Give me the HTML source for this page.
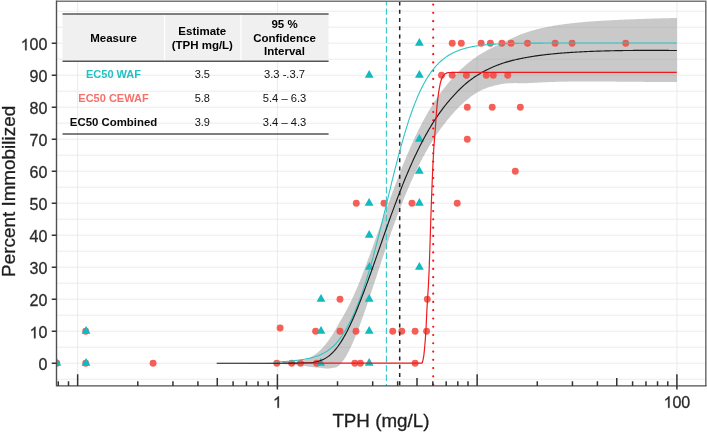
<!DOCTYPE html><html><head><meta charset="utf-8"><style>html,body{margin:0;padding:0;background:#fff;width:707px;height:434px;overflow:hidden;position:relative}</style></head><body><svg width="707" height="434" viewBox="0 0 707 434" style="position:absolute;left:0;top:0;will-change:transform"><defs><clipPath id="pc"><rect x="56.5" y="1.2" width="649.3" height="384.7"/></clipPath></defs><g clip-path="url(#pc)"><path d="M56.5 379.20H705.8M56.5 363.20H705.8M56.5 347.20H705.8M56.5 331.20H705.8M56.5 315.20H705.8M56.5 299.20H705.8M56.5 283.20H705.8M56.5 267.20H705.8M56.5 251.20H705.8M56.5 235.20H705.8M56.5 219.20H705.8M56.5 203.20H705.8M56.5 187.20H705.8M56.5 171.20H705.8M56.5 155.20H705.8M56.5 139.20H705.8M56.5 123.20H705.8M56.5 107.20H705.8M56.5 91.20H705.8M56.5 75.20H705.8M56.5 59.20H705.8M56.5 43.20H705.8M56.5 27.20H705.8M56.5 11.20H705.8M77.65 1.2V385.9M277.40 1.2V385.9M477.15 1.2V385.9M676.90 1.2V385.9" stroke="#ebebeb" stroke-width="1" fill="none"/><path d="M216.70 363.20 L217.47 363.20 L218.24 363.20 L219.00 363.20 L219.77 363.20 L220.54 363.20 L221.31 363.20 L222.08 363.20 L222.85 363.20 L223.61 363.19 L224.38 363.19 L225.15 363.19 L225.92 363.19 L226.69 363.19 L227.46 363.19 L228.22 363.18 L228.99 363.18 L229.76 363.18 L230.53 363.18 L231.30 363.17 L232.07 363.17 L232.83 363.17 L233.60 363.16 L234.37 363.16 L235.14 363.16 L235.91 363.15 L236.68 363.15 L237.44 363.15 L238.21 363.14 L238.98 363.14 L239.75 363.13 L240.52 363.13 L241.28 363.12 L242.05 363.12 L242.82 363.11 L243.59 363.11 L244.36 363.10 L245.13 363.10 L245.89 363.09 L246.66 363.09 L247.43 363.08 L248.20 363.07 L248.97 363.07 L249.74 363.06 L250.50 363.06 L251.27 363.05 L252.04 363.04 L252.81 363.04 L253.58 363.03 L254.35 363.02 L255.11 363.01 L255.88 363.01 L256.65 363.00 L257.42 362.99 L258.19 362.98 L258.96 362.98 L259.72 362.97 L260.49 362.96 L261.26 362.95 L262.03 362.94 L262.80 362.93 L263.57 362.92 L264.33 362.92 L265.10 362.91 L265.87 362.90 L266.64 362.89 L267.41 362.88 L268.17 362.87 L268.94 362.86 L269.71 362.85 L270.48 362.84 L271.25 362.83 L272.02 362.82 L272.78 362.81 L273.55 362.80 L274.32 362.78 L275.09 362.77 L275.86 362.76 L276.63 362.75 L277.39 362.74 L278.16 362.73 L278.93 362.72 L279.70 362.70 L280.47 362.69 L281.24 362.68 L282.00 362.66 L282.77 362.64 L283.54 362.62 L284.31 362.60 L285.08 362.58 L285.85 362.55 L286.61 362.52 L287.38 362.49 L288.15 362.46 L288.92 362.42 L289.69 362.38 L290.45 362.34 L291.22 362.29 L291.99 362.25 L292.76 362.19 L293.53 362.14 L294.30 362.08 L295.06 362.01 L295.83 361.94 L296.60 361.87 L297.37 361.79 L298.14 361.71 L298.91 361.62 L299.67 361.52 L300.44 361.41 L301.21 361.26 L301.98 361.07 L302.75 360.85 L303.52 360.59 L304.28 360.30 L305.05 359.99 L305.82 359.66 L306.59 359.30 L307.36 358.94 L308.13 358.56 L308.89 358.17 L309.66 357.77 L310.43 357.37 L311.20 356.95 L311.97 356.50 L312.74 356.03 L313.50 355.53 L314.27 355.01 L315.04 354.47 L315.81 353.90 L316.58 353.30 L317.34 352.69 L318.11 352.05 L318.88 351.38 L319.65 350.69 L320.42 349.96 L321.19 349.20 L321.95 348.41 L322.72 347.58 L323.49 346.72 L324.26 345.84 L325.03 344.92 L325.80 343.98 L326.56 343.02 L327.33 342.03 L328.10 341.00 L328.87 339.94 L329.64 338.85 L330.41 337.73 L331.17 336.58 L331.94 335.41 L332.71 334.22 L333.48 333.00 L334.25 331.73 L335.02 330.42 L335.78 329.07 L336.55 327.70 L337.32 326.33 L338.09 324.96 L338.86 323.61 L339.62 322.29 L340.39 321.00 L341.16 319.70 L341.93 318.37 L342.70 317.01 L343.47 315.63 L344.23 314.24 L345.00 312.83 L345.77 311.42 L346.54 310.00 L347.31 308.57 L348.08 307.12 L348.84 305.63 L349.61 304.11 L350.38 302.56 L351.15 300.98 L351.92 299.36 L352.69 297.72 L353.45 296.04 L354.22 294.34 L354.99 292.60 L355.76 290.84 L356.53 289.05 L357.30 287.23 L358.06 285.39 L358.83 283.52 L359.60 281.63 L360.37 279.72 L361.14 277.78 L361.91 275.82 L362.67 273.84 L363.44 271.84 L364.21 269.82 L364.98 267.78 L365.75 265.73 L366.51 263.67 L367.28 261.60 L368.05 259.52 L368.82 257.43 L369.59 255.33 L370.36 253.23 L371.12 251.11 L371.89 249.00 L372.66 246.88 L373.43 244.75 L374.20 242.62 L374.97 240.49 L375.73 238.35 L376.50 236.21 L377.27 234.08 L378.04 231.94 L378.81 229.80 L379.58 227.66 L380.34 225.52 L381.11 223.39 L381.88 221.25 L382.65 219.12 L383.42 216.99 L384.19 214.87 L384.95 212.75 L385.72 210.63 L386.49 208.52 L387.26 206.42 L388.03 204.32 L388.79 202.22 L389.56 200.14 L390.33 198.06 L391.10 195.98 L391.87 193.92 L392.64 191.86 L393.40 189.81 L394.17 187.77 L394.94 185.73 L395.71 183.71 L396.48 181.69 L397.25 179.68 L398.01 177.69 L398.78 175.70 L399.55 173.72 L400.32 171.75 L401.09 169.79 L401.86 167.85 L402.62 165.93 L403.39 164.02 L404.16 162.12 L404.93 160.25 L405.70 158.39 L406.47 156.55 L407.23 154.72 L408.00 152.92 L408.77 151.13 L409.54 149.36 L410.31 147.60 L411.07 145.87 L411.84 144.15 L412.61 142.45 L413.38 140.77 L414.15 139.10 L414.92 137.46 L415.68 135.83 L416.45 134.23 L417.22 132.64 L417.99 131.06 L418.76 129.51 L419.53 127.98 L420.29 126.46 L421.06 124.96 L421.83 123.49 L422.60 122.03 L423.37 120.58 L424.14 119.16 L424.90 117.75 L425.67 116.37 L426.44 115.00 L427.21 113.65 L427.98 112.31 L428.75 111.00 L429.51 109.70 L430.28 108.42 L431.05 107.16 L431.82 105.91 L432.59 104.68 L433.36 103.47 L434.12 102.28 L434.89 101.10 L435.66 99.94 L436.43 98.80 L437.20 97.67 L437.96 96.56 L438.73 95.47 L439.50 94.39 L440.27 93.32 L441.04 92.28 L441.81 91.24 L442.57 90.22 L443.34 89.21 L444.11 88.21 L444.88 87.22 L445.65 86.25 L446.42 85.29 L447.18 84.35 L447.95 83.41 L448.72 82.49 L449.49 81.58 L450.26 80.68 L451.03 79.80 L451.79 78.92 L452.56 78.06 L453.33 77.21 L454.10 76.37 L454.87 75.55 L455.64 74.73 L456.40 73.93 L457.17 73.14 L457.94 72.36 L458.71 71.59 L459.48 70.83 L460.24 70.08 L461.01 69.35 L461.78 68.62 L462.55 67.91 L463.32 67.21 L464.09 66.52 L464.85 65.84 L465.62 65.17 L466.39 64.51 L467.16 63.86 L467.93 63.22 L468.70 62.59 L469.46 61.97 L470.23 61.37 L471.00 60.77 L471.77 60.18 L472.54 59.60 L473.31 59.04 L474.07 58.48 L474.84 57.93 L475.61 57.40 L476.38 56.87 L477.15 56.35 L477.92 55.84 L478.68 55.34 L479.45 54.85 L480.22 54.37 L480.99 53.90 L481.76 53.43 L482.53 52.97 L483.29 52.52 L484.06 52.07 L484.83 51.64 L485.60 51.20 L486.37 50.78 L487.13 50.36 L487.90 49.95 L488.67 49.54 L489.44 49.14 L490.21 48.75 L490.98 48.36 L491.74 47.97 L492.51 47.59 L493.28 47.21 L494.05 46.84 L494.82 46.47 L495.59 46.11 L496.35 45.74 L497.12 45.39 L497.89 45.03 L498.66 44.68 L499.43 44.33 L500.20 43.98 L500.96 43.63 L501.73 43.26 L502.50 42.89 L503.27 42.52 L504.04 42.13 L504.81 41.75 L505.57 41.37 L506.34 40.98 L507.11 40.60 L507.88 40.22 L508.65 39.85 L509.41 39.48 L510.18 39.12 L510.95 38.77 L511.72 38.41 L512.49 38.05 L513.26 37.69 L514.02 37.34 L514.79 36.98 L515.56 36.64 L516.33 36.29 L517.10 35.95 L517.87 35.62 L518.63 35.30 L519.40 34.98 L520.17 34.67 L520.94 34.37 L521.71 34.08 L522.48 33.79 L523.24 33.50 L524.01 33.22 L524.78 32.94 L525.55 32.67 L526.32 32.41 L527.09 32.15 L527.85 31.89 L528.62 31.65 L529.39 31.41 L530.16 31.18 L530.93 30.95 L531.69 30.73 L532.46 30.51 L533.23 30.30 L534.00 30.08 L534.77 29.88 L535.54 29.67 L536.30 29.47 L537.07 29.27 L537.84 29.08 L538.61 28.89 L539.38 28.70 L540.15 28.52 L540.91 28.33 L541.68 28.16 L542.45 27.98 L543.22 27.81 L543.99 27.64 L544.76 27.48 L545.52 27.32 L546.29 27.16 L547.06 27.00 L547.83 26.85 L548.60 26.70 L549.37 26.55 L550.13 26.41 L550.90 26.27 L551.67 26.13 L552.44 25.99 L553.21 25.86 L553.98 25.73 L554.74 25.60 L555.51 25.47 L556.28 25.35 L557.05 25.23 L557.82 25.11 L558.58 24.99 L559.35 24.87 L560.12 24.76 L560.89 24.65 L561.66 24.54 L562.43 24.43 L563.19 24.32 L563.96 24.22 L564.73 24.11 L565.50 24.01 L566.27 23.91 L567.04 23.82 L567.80 23.72 L568.57 23.63 L569.34 23.53 L570.11 23.44 L570.88 23.35 L571.65 23.26 L572.41 23.18 L573.18 23.09 L573.95 23.01 L574.72 22.93 L575.49 22.85 L576.26 22.77 L577.02 22.69 L577.79 22.61 L578.56 22.54 L579.33 22.46 L580.10 22.39 L580.86 22.32 L581.63 22.25 L582.40 22.18 L583.17 22.11 L583.94 22.04 L584.71 21.98 L585.47 21.91 L586.24 21.85 L587.01 21.79 L587.78 21.73 L588.55 21.67 L589.32 21.61 L590.08 21.55 L590.85 21.49 L591.62 21.43 L592.39 21.38 L593.16 21.32 L593.93 21.27 L594.69 21.21 L595.46 21.16 L596.23 21.11 L597.00 21.06 L597.77 21.01 L598.54 20.96 L599.30 20.91 L600.07 20.86 L600.84 20.82 L601.61 20.77 L602.38 20.72 L603.15 20.68 L603.91 20.63 L604.68 20.59 L605.45 20.55 L606.22 20.50 L606.99 20.46 L607.75 20.42 L608.52 20.38 L609.29 20.34 L610.06 20.30 L610.83 20.26 L611.60 20.22 L612.36 20.18 L613.13 20.14 L613.90 20.10 L614.67 20.06 L615.44 20.03 L616.21 19.99 L616.97 19.95 L617.74 19.91 L618.51 19.88 L619.28 19.84 L620.05 19.81 L620.82 19.77 L621.58 19.74 L622.35 19.70 L623.12 19.67 L623.89 19.64 L624.66 19.60 L625.43 19.57 L626.19 19.54 L626.96 19.51 L627.73 19.47 L628.50 19.44 L629.27 19.41 L630.03 19.38 L630.80 19.35 L631.57 19.32 L632.34 19.29 L633.11 19.26 L633.88 19.23 L634.64 19.20 L635.41 19.17 L636.18 19.14 L636.95 19.11 L637.72 19.08 L638.49 19.06 L639.25 19.03 L640.02 19.00 L640.79 18.98 L641.56 18.95 L642.33 18.92 L643.10 18.90 L643.86 18.87 L644.63 18.84 L645.40 18.82 L646.17 18.79 L646.94 18.77 L647.71 18.74 L648.47 18.72 L649.24 18.70 L650.01 18.67 L650.78 18.65 L651.55 18.63 L652.32 18.60 L653.08 18.58 L653.85 18.56 L654.62 18.53 L655.39 18.51 L656.16 18.49 L656.92 18.47 L657.69 18.45 L658.46 18.43 L659.23 18.41 L660.00 18.39 L660.77 18.37 L661.53 18.35 L662.30 18.33 L663.07 18.31 L663.84 18.29 L664.61 18.27 L665.38 18.25 L666.14 18.23 L666.91 18.21 L667.68 18.19 L668.45 18.18 L669.22 18.16 L669.99 18.14 L670.75 18.12 L671.52 18.11 L672.29 18.09 L673.06 18.07 L673.83 18.06 L674.60 18.04 L675.36 18.03 L676.13 18.01 L676.90 18.00 L676.90 81.99 L676.13 82.00 L675.36 82.00 L674.60 82.00 L673.83 82.01 L673.06 82.01 L672.29 82.01 L671.52 82.01 L670.75 82.01 L669.99 82.01 L669.22 82.01 L668.45 82.01 L667.68 82.01 L666.91 82.01 L666.14 82.01 L665.38 82.01 L664.61 82.01 L663.84 82.01 L663.07 82.00 L662.30 82.00 L661.53 82.00 L660.77 82.00 L660.00 81.99 L659.23 81.99 L658.46 81.98 L657.69 81.98 L656.92 81.98 L656.16 81.97 L655.39 81.97 L654.62 81.96 L653.85 81.96 L653.08 81.95 L652.32 81.95 L651.55 81.94 L650.78 81.94 L650.01 81.93 L649.24 81.92 L648.47 81.92 L647.71 81.91 L646.94 81.91 L646.17 81.90 L645.40 81.89 L644.63 81.89 L643.86 81.88 L643.10 81.87 L642.33 81.86 L641.56 81.86 L640.79 81.85 L640.02 81.84 L639.25 81.84 L638.49 81.83 L637.72 81.82 L636.95 81.81 L636.18 81.81 L635.41 81.80 L634.64 81.79 L633.88 81.78 L633.11 81.77 L632.34 81.77 L631.57 81.76 L630.80 81.75 L630.03 81.74 L629.27 81.74 L628.50 81.73 L627.73 81.72 L626.96 81.72 L626.19 81.71 L625.43 81.70 L624.66 81.69 L623.89 81.69 L623.12 81.68 L622.35 81.67 L621.58 81.67 L620.82 81.66 L620.05 81.65 L619.28 81.65 L618.51 81.64 L617.74 81.64 L616.97 81.63 L616.21 81.63 L615.44 81.62 L614.67 81.62 L613.90 81.61 L613.13 81.61 L612.36 81.60 L611.60 81.60 L610.83 81.59 L610.06 81.59 L609.29 81.59 L608.52 81.59 L607.75 81.58 L606.99 81.58 L606.22 81.58 L605.45 81.58 L604.68 81.58 L603.91 81.58 L603.15 81.58 L602.38 81.58 L601.61 81.58 L600.84 81.58 L600.07 81.58 L599.30 81.58 L598.54 81.58 L597.77 81.58 L597.00 81.58 L596.23 81.58 L595.46 81.58 L594.69 81.58 L593.93 81.58 L593.16 81.58 L592.39 81.58 L591.62 81.58 L590.85 81.58 L590.08 81.58 L589.32 81.58 L588.55 81.58 L587.78 81.58 L587.01 81.57 L586.24 81.57 L585.47 81.57 L584.71 81.57 L583.94 81.57 L583.17 81.57 L582.40 81.57 L581.63 81.57 L580.86 81.57 L580.10 81.57 L579.33 81.57 L578.56 81.57 L577.79 81.57 L577.02 81.57 L576.26 81.57 L575.49 81.57 L574.72 81.58 L573.95 81.58 L573.18 81.58 L572.41 81.59 L571.65 81.59 L570.88 81.60 L570.11 81.60 L569.34 81.61 L568.57 81.61 L567.80 81.62 L567.04 81.63 L566.27 81.64 L565.50 81.65 L564.73 81.66 L563.96 81.67 L563.19 81.68 L562.43 81.70 L561.66 81.71 L560.89 81.73 L560.12 81.74 L559.35 81.76 L558.58 81.78 L557.82 81.80 L557.05 81.82 L556.28 81.84 L555.51 81.86 L554.74 81.88 L553.98 81.91 L553.21 81.93 L552.44 81.96 L551.67 81.99 L550.90 82.02 L550.13 82.04 L549.37 82.07 L548.60 82.10 L547.83 82.13 L547.06 82.17 L546.29 82.20 L545.52 82.23 L544.76 82.27 L543.99 82.30 L543.22 82.34 L542.45 82.37 L541.68 82.41 L540.91 82.44 L540.15 82.48 L539.38 82.52 L538.61 82.56 L537.84 82.60 L537.07 82.64 L536.30 82.68 L535.54 82.72 L534.77 82.76 L534.00 82.80 L533.23 82.84 L532.46 82.89 L531.69 82.93 L530.93 82.97 L530.16 83.02 L529.39 83.06 L528.62 83.09 L527.85 83.12 L527.09 83.14 L526.32 83.16 L525.55 83.17 L524.78 83.18 L524.01 83.18 L523.24 83.19 L522.48 83.18 L521.71 83.18 L520.94 83.17 L520.17 83.16 L519.40 83.15 L518.63 83.15 L517.87 83.14 L517.10 83.13 L516.33 83.12 L515.56 83.12 L514.79 83.12 L514.02 83.12 L513.26 83.13 L512.49 83.14 L511.72 83.15 L510.95 83.17 L510.18 83.20 L509.41 83.23 L508.65 83.27 L507.88 83.32 L507.11 83.37 L506.34 83.44 L505.57 83.51 L504.81 83.59 L504.04 83.69 L503.27 83.79 L502.50 83.91 L501.73 84.03 L500.96 84.17 L500.20 84.33 L499.43 84.49 L498.66 84.66 L497.89 84.83 L497.12 85.01 L496.35 85.19 L495.59 85.37 L494.82 85.56 L494.05 85.75 L493.28 85.96 L492.51 86.16 L491.74 86.38 L490.98 86.60 L490.21 86.83 L489.44 87.07 L488.67 87.32 L487.90 87.58 L487.13 87.85 L486.37 88.13 L485.60 88.42 L484.83 88.72 L484.06 89.03 L483.29 89.36 L482.53 89.70 L481.76 90.05 L480.99 90.42 L480.22 90.80 L479.45 91.20 L478.68 91.61 L477.92 92.04 L477.15 92.49 L476.38 92.95 L475.61 93.43 L474.84 93.93 L474.07 94.44 L473.31 94.97 L472.54 95.50 L471.77 96.06 L471.00 96.62 L470.23 97.20 L469.46 97.79 L468.70 98.39 L467.93 99.01 L467.16 99.63 L466.39 100.27 L465.62 100.93 L464.85 101.59 L464.09 102.27 L463.32 102.96 L462.55 103.67 L461.78 104.38 L461.01 105.11 L460.24 105.85 L459.48 106.60 L458.71 107.37 L457.94 108.14 L457.17 108.93 L456.40 109.74 L455.64 110.55 L454.87 111.37 L454.10 112.21 L453.33 113.06 L452.56 113.92 L451.79 114.80 L451.03 115.68 L450.26 116.58 L449.49 117.49 L448.72 118.41 L447.95 119.35 L447.18 120.29 L446.42 121.25 L445.65 122.22 L444.88 123.20 L444.11 124.19 L443.34 125.19 L442.57 126.21 L441.81 127.24 L441.04 128.27 L440.27 129.32 L439.50 130.39 L438.73 131.47 L437.96 132.56 L437.20 133.67 L436.43 134.80 L435.66 135.94 L434.89 137.10 L434.12 138.28 L433.36 139.47 L432.59 140.68 L431.82 141.91 L431.05 143.16 L430.28 144.42 L429.51 145.70 L428.75 147.00 L427.98 148.31 L427.21 149.65 L426.44 151.00 L425.67 152.37 L424.90 153.75 L424.14 155.16 L423.37 156.58 L422.60 158.03 L421.83 159.49 L421.06 160.96 L420.29 162.46 L419.53 163.98 L418.76 165.51 L417.99 167.06 L417.22 168.64 L416.45 170.23 L415.68 171.83 L414.92 173.46 L414.15 175.10 L413.38 176.77 L412.61 178.45 L411.84 180.15 L411.07 181.87 L410.31 183.60 L409.54 185.36 L408.77 187.13 L408.00 188.92 L407.23 190.72 L406.47 192.55 L405.70 194.39 L404.93 196.25 L404.16 198.12 L403.39 200.02 L402.62 201.93 L401.86 203.85 L401.09 205.79 L400.32 207.75 L399.55 209.72 L398.78 211.71 L398.01 213.73 L397.25 215.77 L396.48 217.83 L395.71 219.91 L394.94 222.02 L394.17 224.14 L393.40 226.28 L392.64 228.44 L391.87 230.61 L391.10 232.80 L390.33 235.01 L389.56 237.24 L388.79 239.47 L388.03 241.72 L387.26 243.99 L386.49 246.26 L385.72 248.55 L384.95 250.85 L384.19 253.15 L383.42 255.47 L382.65 257.79 L381.88 260.12 L381.11 262.45 L380.34 264.79 L379.58 267.13 L378.81 269.47 L378.04 271.81 L377.27 274.16 L376.50 276.50 L375.73 278.84 L374.97 281.18 L374.20 283.52 L373.43 285.85 L372.66 288.17 L371.89 290.48 L371.12 292.79 L370.36 295.09 L369.59 297.37 L368.82 299.64 L368.05 301.90 L367.28 304.15 L366.51 306.38 L365.75 308.59 L364.98 310.79 L364.21 312.98 L363.44 315.17 L362.67 317.36 L361.91 319.54 L361.14 321.70 L360.37 323.85 L359.60 325.96 L358.83 328.04 L358.06 330.07 L357.30 332.06 L356.53 333.99 L355.76 335.86 L354.99 337.70 L354.22 339.50 L353.45 341.28 L352.69 343.01 L351.92 344.72 L351.15 346.38 L350.38 348.00 L349.61 349.59 L348.84 351.13 L348.08 352.62 L347.31 354.06 L346.54 355.43 L345.77 356.73 L345.00 357.96 L344.23 359.14 L343.47 360.26 L342.70 361.32 L341.93 362.33 L341.16 363.29 L340.39 364.21 L339.62 365.07 L338.86 365.78 L338.09 366.36 L337.32 366.81 L336.55 367.15 L335.78 367.41 L335.02 367.60 L334.25 367.74 L333.48 367.85 L332.71 367.95 L331.94 368.05 L331.17 368.17 L330.41 368.32 L329.64 368.42 L328.87 368.48 L328.10 368.52 L327.33 368.52 L326.56 368.50 L325.80 368.45 L325.03 368.39 L324.26 368.31 L323.49 368.22 L322.72 368.13 L321.95 368.03 L321.19 367.94 L320.42 367.85 L319.65 367.77 L318.88 367.70 L318.11 367.65 L317.34 367.61 L316.58 367.56 L315.81 367.50 L315.04 367.43 L314.27 367.35 L313.50 367.26 L312.74 367.16 L311.97 367.06 L311.20 366.96 L310.43 366.85 L309.66 366.74 L308.89 366.63 L308.13 366.52 L307.36 366.40 L306.59 366.29 L305.82 366.18 L305.05 366.07 L304.28 365.97 L303.52 365.87 L302.75 365.77 L301.98 365.68 L301.21 365.60 L300.44 365.52 L299.67 365.45 L298.91 365.38 L298.14 365.30 L297.37 365.23 L296.60 365.16 L295.83 365.08 L295.06 365.01 L294.30 364.94 L293.53 364.87 L292.76 364.79 L291.99 364.73 L291.22 364.66 L290.45 364.59 L289.69 364.53 L288.92 364.47 L288.15 364.41 L287.38 364.36 L286.61 364.30 L285.85 364.26 L285.08 364.21 L284.31 364.17 L283.54 364.13 L282.77 364.09 L282.00 364.06 L281.24 364.03 L280.47 364.01 L279.70 363.99 L278.93 363.97 L278.16 363.95 L277.39 363.93 L276.63 363.92 L275.86 363.90 L275.09 363.88 L274.32 363.86 L273.55 363.85 L272.78 363.83 L272.02 363.81 L271.25 363.79 L270.48 363.78 L269.71 363.76 L268.94 363.75 L268.17 363.73 L267.41 363.71 L266.64 363.70 L265.87 363.68 L265.10 363.67 L264.33 363.65 L263.57 363.64 L262.80 363.62 L262.03 363.61 L261.26 363.60 L260.49 363.58 L259.72 363.57 L258.96 363.56 L258.19 363.54 L257.42 363.53 L256.65 363.52 L255.88 363.51 L255.11 363.49 L254.35 363.48 L253.58 363.47 L252.81 363.46 L252.04 363.45 L251.27 363.44 L250.50 363.43 L249.74 363.42 L248.97 363.41 L248.20 363.40 L247.43 363.39 L246.66 363.38 L245.89 363.37 L245.13 363.36 L244.36 363.35 L243.59 363.34 L242.82 363.34 L242.05 363.33 L241.28 363.32 L240.52 363.31 L239.75 363.31 L238.98 363.30 L238.21 363.29 L237.44 363.29 L236.68 363.28 L235.91 363.27 L235.14 363.27 L234.37 363.26 L233.60 363.26 L232.83 363.25 L232.07 363.25 L231.30 363.24 L230.53 363.24 L229.76 363.23 L228.99 363.23 L228.22 363.23 L227.46 363.22 L226.69 363.22 L225.92 363.22 L225.15 363.21 L224.38 363.21 L223.61 363.21 L222.85 363.21 L222.08 363.21 L221.31 363.20 L220.54 363.20 L219.77 363.20 L219.00 363.20 L218.24 363.20 L217.47 363.20 L216.70 363.20 Z" fill="#999" fill-opacity="0.53" stroke="none"/><g fill="#f34a40" fill-opacity="0.88"><circle cx="56.8" cy="363.2" r="3.45"/><circle cx="85.7" cy="363.2" r="3.45"/><circle cx="153.1" cy="363.2" r="3.45"/><circle cx="276.8" cy="363.2" r="3.45"/><circle cx="291.7" cy="363.2" r="3.45"/><circle cx="300.5" cy="363.2" r="3.45"/><circle cx="316.7" cy="363.2" r="3.45"/><circle cx="354.8" cy="363.2" r="3.45"/><circle cx="360.4" cy="363.2" r="3.45"/><circle cx="415.1" cy="363.2" r="3.45"/><circle cx="85.7" cy="331.2" r="3.45"/><circle cx="315.6" cy="331.2" r="3.45"/><circle cx="340.0" cy="331.2" r="3.45"/><circle cx="356.0" cy="331.2" r="3.45"/><circle cx="392.7" cy="331.2" r="3.45"/><circle cx="401.8" cy="331.2" r="3.45"/><circle cx="415.1" cy="331.2" r="3.45"/><circle cx="426.6" cy="331.2" r="3.45"/><circle cx="340.0" cy="299.2" r="3.45"/><circle cx="427.3" cy="299.2" r="3.45"/><circle cx="356.3" cy="203.2" r="3.45"/><circle cx="384.0" cy="203.2" r="3.45"/><circle cx="412.0" cy="203.2" r="3.45"/><circle cx="457.2" cy="203.2" r="3.45"/><circle cx="515.3" cy="171.2" r="3.45"/><circle cx="467.3" cy="139.2" r="3.45"/><circle cx="467.3" cy="107.2" r="3.45"/><circle cx="492.2" cy="107.2" r="3.45"/><circle cx="520.3" cy="107.2" r="3.45"/><circle cx="441.5" cy="75.2" r="3.45"/><circle cx="452.2" cy="75.2" r="3.45"/><circle cx="466.4" cy="75.2" r="3.45"/><circle cx="486.3" cy="75.2" r="3.45"/><circle cx="493.3" cy="75.2" r="3.45"/><circle cx="507.7" cy="75.2" r="3.45"/><circle cx="452.2" cy="43.2" r="3.45"/><circle cx="461.3" cy="43.2" r="3.45"/><circle cx="481.1" cy="43.2" r="3.45"/><circle cx="490.4" cy="43.2" r="3.45"/><circle cx="501.9" cy="43.2" r="3.45"/><circle cx="511.1" cy="43.2" r="3.45"/><circle cx="527.5" cy="43.2" r="3.45"/><circle cx="555.1" cy="43.2" r="3.45"/><circle cx="572.1" cy="43.2" r="3.45"/><circle cx="625.7" cy="43.2" r="3.45"/><circle cx="280.1" cy="328.0" r="3.45"/></g><path d="M56.80 358.10L61.22 365.75L52.38 365.75ZM86.10 358.10L90.52 365.75L81.68 365.75ZM320.70 358.10L325.12 365.75L316.28 365.75ZM369.20 358.10L373.62 365.75L364.78 365.75ZM86.10 326.10L90.52 333.75L81.68 333.75ZM321.00 326.10L325.42 333.75L316.58 333.75ZM369.20 326.10L373.62 333.75L364.78 333.75ZM321.00 294.10L325.42 301.75L316.58 301.75ZM369.20 294.10L373.62 301.75L364.78 301.75ZM369.40 262.10L373.82 269.75L364.98 269.75ZM419.40 262.10L423.82 269.75L414.98 269.75ZM369.20 230.10L373.62 237.75L364.78 237.75ZM369.10 198.10L373.52 205.75L364.68 205.75ZM419.40 198.10L423.82 205.75L414.98 205.75ZM419.30 166.10L423.72 173.75L414.88 173.75ZM419.40 134.10L423.82 141.75L414.98 141.75ZM369.20 70.10L373.62 77.75L364.78 77.75ZM419.40 70.10L423.82 77.75L414.98 77.75ZM419.40 38.10L423.82 45.75L414.98 45.75Z" fill="#0fbac0"/><line x1="386.4" y1="1.2" x2="386.4" y2="385.9" stroke="#36c8c8" stroke-width="1.1" stroke-dasharray="6.4 2.99" stroke-dashoffset="2.19"/><line x1="399.7" y1="1.2" x2="399.7" y2="385.9" stroke="#222" stroke-width="1.5" stroke-dasharray="4 4.255" stroke-dashoffset="-0.3"/><line x1="433.2" y1="1.2" x2="433.2" y2="385.9" stroke="#ff1010" stroke-width="2.2" stroke-dasharray="0.01 8.25" stroke-linecap="round" stroke-dashoffset="-3.4"/><path d="M274.00 362.18 L274.81 362.13 L275.61 362.09 L276.42 362.05 L277.23 362.01 L278.04 361.96 L278.84 361.92 L279.65 361.87 L280.46 361.82 L281.26 361.77 L282.07 361.72 L282.88 361.67 L283.69 361.62 L284.49 361.56 L285.30 361.50 L286.11 361.44 L286.92 361.38 L287.72 361.32 L288.53 361.25 L289.34 361.18 L290.14 361.11 L290.95 361.03 L291.76 360.96 L292.57 360.87 L293.37 360.79 L294.18 360.70 L294.99 360.60 L295.79 360.50 L296.60 360.40 L297.41 360.29 L298.22 360.18 L299.02 360.06 L299.83 359.94 L300.64 359.81 L301.45 359.68 L302.25 359.56 L303.06 359.43 L303.87 359.30 L304.67 359.17 L305.48 359.03 L306.29 358.89 L307.10 358.75 L307.90 358.60 L308.71 358.44 L309.52 358.27 L310.32 358.10 L311.13 357.91 L311.94 357.72 L312.75 357.51 L313.55 357.29 L314.36 357.06 L315.17 356.81 L315.98 356.55 L316.78 356.27 L317.59 355.97 L318.40 355.66 L319.20 355.32 L320.01 354.96 L320.82 354.59 L321.63 354.20 L322.43 353.79 L323.24 353.36 L324.05 352.92 L324.85 352.46 L325.66 351.98 L326.47 351.47 L327.28 350.94 L328.08 350.39 L328.89 349.82 L329.70 349.22 L330.51 348.59 L331.31 347.93 L332.12 347.25 L332.93 346.53 L333.73 345.78 L334.54 345.00 L335.35 344.17 L336.16 343.30 L336.96 342.38 L337.77 341.42 L338.58 340.42 L339.38 339.38 L340.19 338.30 L341.00 337.17 L341.81 336.01 L342.61 334.80 L343.42 333.55 L344.23 332.27 L345.03 330.94 L345.84 329.58 L346.65 328.18 L347.46 326.74 L348.26 325.26 L349.07 323.75 L349.88 322.20 L350.69 320.61 L351.49 318.97 L352.30 317.28 L353.11 315.53 L353.91 313.74 L354.72 311.90 L355.53 310.01 L356.34 308.07 L357.14 306.08 L357.95 304.04 L358.76 301.96 L359.56 299.82 L360.37 297.64 L361.18 295.41 L361.99 293.13 L362.79 290.81 L363.60 288.44 L364.41 286.04 L365.22 283.58 L366.02 281.08 L366.83 278.53 L367.64 275.92 L368.44 273.27 L369.25 270.56 L370.06 267.81 L370.87 265.01 L371.67 262.17 L372.48 259.28 L373.29 256.34 L374.09 253.37 L374.90 250.35 L375.71 247.30 L376.52 244.21 L377.32 241.09 L378.13 237.94 L378.94 234.75 L379.75 231.54 L380.55 228.31 L381.36 225.05 L382.17 221.77 L382.97 218.48 L383.78 215.17 L384.59 211.85 L385.40 208.53 L386.20 205.19 L387.01 201.86 L387.82 198.52 L388.62 195.19 L389.43 191.87 L390.24 188.55 L391.05 185.24 L391.85 181.95 L392.66 178.68 L393.47 175.43 L394.27 172.20 L395.08 168.99 L395.89 165.82 L396.70 162.67 L397.50 159.56 L398.31 156.48 L399.12 153.43 L399.93 150.43 L400.73 147.46 L401.54 144.54 L402.35 141.66 L403.15 138.83 L403.96 136.04 L404.77 133.31 L405.58 130.62 L406.38 127.98 L407.19 125.39 L408.00 122.85 L408.80 120.37 L409.61 117.94 L410.42 115.56 L411.23 113.24 L412.03 110.97 L412.84 108.75 L413.65 106.59 L414.46 104.48 L415.26 102.42 L416.07 100.42 L416.88 98.47 L417.68 96.57 L418.49 94.73 L419.30 92.93 L420.11 91.19 L420.91 89.50 L421.72 87.86 L422.53 86.26 L423.33 84.72 L424.14 83.22 L424.95 81.76 L425.76 80.36 L426.56 78.99 L427.37 77.67 L428.18 76.40 L428.99 75.16 L429.79 73.97 L430.60 72.81 L431.41 71.69 L432.21 70.62 L433.02 69.57 L433.83 68.57 L434.64 67.60 L435.44 66.66 L436.25 65.75 L437.06 64.88 L437.86 64.04 L438.67 63.23 L439.48 62.45 L440.29 61.69 L441.09 60.97 L441.90 60.27 L442.71 59.59 L443.52 58.94 L444.32 58.32 L445.13 57.72 L445.94 57.14 L446.74 56.58 L447.55 56.04 L448.36 55.53 L449.17 55.03 L449.97 54.55 L450.78 54.09 L451.59 53.65 L452.39 53.23 L453.20 52.82 L454.01 52.42 L454.82 52.05 L455.62 51.68 L456.43 51.33 L457.24 51.00 L458.04 50.68 L458.85 50.37 L459.66 50.07 L460.47 49.79 L461.27 49.51 L462.08 49.25 L462.89 48.99 L463.70 48.75 L464.50 48.52 L465.31 48.29 L466.12 48.08 L466.92 47.87 L467.73 47.67 L468.54 47.48 L469.35 47.30 L470.15 47.13 L470.96 46.96 L471.77 46.80 L472.57 46.64 L473.38 46.49 L474.19 46.35 L475.00 46.21 L475.80 46.08 L476.61 45.95 L477.42 45.83 L478.23 45.72 L479.03 45.60 L479.84 45.50 L480.65 45.39 L481.45 45.30 L482.26 45.20 L483.07 45.11 L483.88 45.02 L484.68 44.94 L485.49 44.86 L486.30 44.78 L487.10 44.71 L487.91 44.64 L488.72 44.57 L489.53 44.51 L490.33 44.44 L491.14 44.38 L491.95 44.33 L492.76 44.27 L493.56 44.22 L494.37 44.17 L495.18 44.12 L495.98 44.07 L496.79 44.03 L497.60 43.98 L498.41 43.94 L499.21 43.90 L500.02 43.87 L500.83 43.83 L501.63 43.79 L502.44 43.76 L503.25 43.73 L504.06 43.70 L504.86 43.67 L505.67 43.64 L506.48 43.61 L507.28 43.59 L508.09 43.56 L508.90 43.54 L509.71 43.52 L510.51 43.49 L511.32 43.47 L512.13 43.45 L512.94 43.43 L513.74 43.41 L514.55 43.40 L515.36 43.38 L516.16 43.36 L516.97 43.35 L517.78 43.33 L518.59 43.32 L519.39 43.30 L520.20 43.29 L521.01 43.28 L521.81 43.27 L522.62 43.25 L523.43 43.24 L524.24 43.23 L525.04 43.22 L525.85 43.21 L526.66 43.20 L527.47 43.19 L528.27 43.18 L529.08 43.18 L529.89 43.17 L530.69 43.16 L531.50 43.15 L532.31 43.15 L533.12 43.14 L533.92 43.13 L534.73 43.13 L535.54 43.12 L536.34 43.12 L537.15 43.11 L537.96 43.10 L538.77 43.10 L539.57 43.09 L540.38 43.09 L541.19 43.09 L542.00 43.08 L542.80 43.08 L543.61 43.07 L544.42 43.07 L545.22 43.07 L546.03 43.06 L546.84 43.06 L547.65 43.06 L548.45 43.05 L549.26 43.05 L550.07 43.05 L550.87 43.04 L551.68 43.04 L552.49 43.04 L553.30 43.04 L554.10 43.03 L554.91 43.03 L555.72 43.03 L556.53 43.03 L557.33 43.03 L558.14 43.02 L558.95 43.02 L559.75 43.02 L560.56 43.02 L561.37 43.02 L562.18 43.02 L562.98 43.01 L563.79 43.01 L564.60 43.01 L565.40 43.01 L566.21 43.01 L567.02 43.01 L567.83 43.01 L568.63 43.01 L569.44 43.01 L570.25 43.00 L571.05 43.00 L571.86 43.00 L572.67 43.00 L573.48 43.00 L574.28 43.00 L575.09 43.00 L575.90 43.00 L576.71 43.00 L577.51 43.00 L578.32 43.00 L579.13 43.00 L579.93 43.00 L580.74 42.99 L581.55 42.99 L582.36 42.99 L583.16 42.99 L583.97 42.99 L584.78 42.99 L585.58 42.99 L586.39 42.99 L587.20 42.99 L588.01 42.99 L588.81 42.99 L589.62 42.99 L590.43 42.99 L591.24 42.99 L592.04 42.99 L592.85 42.99 L593.66 42.99 L594.46 42.99 L595.27 42.99 L596.08 42.99 L596.89 42.99 L597.69 42.99 L598.50 42.99 L599.31 42.99 L600.11 42.99 L600.92 42.99 L601.73 42.99 L602.54 42.99 L603.34 42.99 L604.15 42.99 L604.96 42.99 L605.77 42.99 L606.57 42.98 L607.38 42.98 L608.19 42.98 L608.99 42.98 L609.80 42.98 L610.61 42.98 L611.42 42.98 L612.22 42.98 L613.03 42.98 L613.84 42.98 L614.64 42.98 L615.45 42.98 L616.26 42.98 L617.07 42.98 L617.87 42.98 L618.68 42.98 L619.49 42.98 L620.29 42.98 L621.10 42.98 L621.91 42.98 L622.72 42.98 L623.52 42.98 L624.33 42.98 L625.14 42.98 L625.95 42.98 L626.75 42.98 L627.56 42.98 L628.37 42.98 L629.17 42.98 L629.98 42.98 L630.79 42.98 L631.60 42.98 L632.40 42.98 L633.21 42.98 L634.02 42.98 L634.82 42.98 L635.63 42.98 L636.44 42.98 L637.25 42.98 L638.05 42.98 L638.86 42.98 L639.67 42.98 L640.48 42.98 L641.28 42.98 L642.09 42.98 L642.90 42.98 L643.70 42.98 L644.51 42.98 L645.32 42.98 L646.13 42.98 L646.93 42.98 L647.74 42.98 L648.55 42.98 L649.35 42.98 L650.16 42.98 L650.97 42.98 L651.78 42.98 L652.58 42.98 L653.39 42.98 L654.20 42.98 L655.01 42.98 L655.81 42.98 L656.62 42.98 L657.43 42.98 L658.23 42.98 L659.04 42.98 L659.85 42.98 L660.66 42.98 L661.46 42.98 L662.27 42.98 L663.08 42.98 L663.88 42.98 L664.69 42.98 L665.50 42.98 L666.31 42.98 L667.11 42.98 L667.92 42.98 L668.73 42.98 L669.54 42.98 L670.34 42.98 L671.15 42.98 L671.96 42.98 L672.76 42.98 L673.57 42.98 L674.38 42.98 L675.19 42.98 L675.99 42.98 L676.80 42.98" stroke="#2ec4c4" stroke-width="1.1" fill="none" stroke-linejoin="round"/><path d="M216.70 363.20 L217.62 363.20 L218.54 363.20 L219.47 363.20 L220.39 363.20 L221.31 363.20 L222.23 363.20 L223.15 363.20 L224.08 363.20 L225.00 363.20 L225.92 363.20 L226.84 363.20 L227.76 363.20 L228.69 363.20 L229.61 363.20 L230.53 363.20 L231.45 363.20 L232.37 363.20 L233.30 363.20 L234.22 363.20 L235.14 363.20 L236.06 363.20 L236.98 363.20 L237.91 363.20 L238.83 363.20 L239.75 363.20 L240.67 363.20 L241.60 363.20 L242.52 363.20 L243.44 363.20 L244.36 363.20 L245.28 363.20 L246.21 363.20 L247.13 363.20 L248.05 363.20 L248.97 363.20 L249.89 363.20 L250.82 363.20 L251.74 363.20 L252.66 363.20 L253.58 363.20 L254.50 363.20 L255.43 363.20 L256.35 363.20 L257.27 363.20 L258.19 363.20 L259.11 363.20 L260.04 363.20 L260.96 363.20 L261.88 363.20 L262.80 363.20 L263.72 363.20 L264.65 363.20 L265.57 363.20 L266.49 363.20 L267.41 363.20 L268.33 363.20 L269.26 363.20 L270.18 363.20 L271.10 363.20 L272.02 363.20 L272.94 363.20 L273.87 363.20 L274.79 363.20 L275.71 363.20 L276.63 363.20 L277.55 363.20 L278.48 363.20 L279.40 363.20 L280.32 363.20 L281.24 363.20 L282.17 363.20 L283.09 363.19 L284.01 363.19 L284.93 363.19 L285.85 363.19 L286.78 363.19 L287.70 363.18 L288.62 363.18 L289.54 363.17 L290.46 363.17 L291.39 363.16 L292.31 363.15 L293.23 363.14 L294.15 363.13 L295.07 363.11 L296.00 363.10 L296.92 363.08 L297.84 363.05 L298.76 363.02 L299.68 362.99 L300.61 362.96 L301.53 362.93 L302.45 362.91 L303.37 362.90 L304.29 362.88 L305.22 362.87 L306.14 362.86 L307.06 362.84 L307.98 362.81 L308.90 362.77 L309.83 362.72 L310.75 362.65 L311.67 362.57 L312.59 362.46 L313.51 362.33 L314.44 362.18 L315.36 361.99 L316.28 361.79 L317.20 361.56 L318.12 361.30 L319.05 361.02 L319.97 360.72 L320.89 360.38 L321.81 360.01 L322.74 359.61 L323.66 359.17 L324.58 358.70 L325.50 358.18 L326.42 357.62 L327.35 357.02 L328.27 356.37 L329.19 355.68 L330.11 354.93 L331.03 354.13 L331.96 353.29 L332.88 352.38 L333.80 351.43 L334.72 350.41 L335.64 349.33 L336.57 348.19 L337.49 347.00 L338.41 345.74 L339.33 344.42 L340.25 343.05 L341.18 341.62 L342.10 340.14 L343.02 338.60 L343.94 337.01 L344.86 335.36 L345.79 333.67 L346.71 331.93 L347.63 330.14 L348.55 328.30 L349.47 326.43 L350.40 324.51 L351.32 322.53 L352.24 320.51 L353.16 318.44 L354.08 316.32 L355.01 314.16 L355.93 311.96 L356.85 309.72 L357.77 307.45 L358.69 305.14 L359.62 302.80 L360.54 300.44 L361.46 298.05 L362.38 295.64 L363.31 293.22 L364.23 290.78 L365.15 288.33 L366.07 285.86 L366.99 283.36 L367.92 280.85 L368.84 278.31 L369.76 275.76 L370.68 273.19 L371.60 270.61 L372.53 268.01 L373.45 265.41 L374.37 262.79 L375.29 260.16 L376.21 257.53 L377.14 254.90 L378.06 252.26 L378.98 249.61 L379.90 246.97 L380.82 244.33 L381.75 241.69 L382.67 239.05 L383.59 236.42 L384.51 233.79 L385.43 231.17 L386.36 228.56 L387.28 225.96 L388.20 223.37 L389.12 220.79 L390.04 218.23 L390.97 215.67 L391.89 213.13 L392.81 210.61 L393.73 208.11 L394.65 205.62 L395.58 203.15 L396.50 200.69 L397.42 198.26 L398.34 195.85 L399.26 193.46 L400.19 191.08 L401.11 188.74 L402.03 186.41 L402.95 184.10 L403.87 181.82 L404.80 179.56 L405.72 177.33 L406.64 175.12 L407.56 172.93 L408.49 170.77 L409.41 168.64 L410.33 166.53 L411.25 164.44 L412.17 162.38 L413.10 160.35 L414.02 158.34 L414.94 156.36 L415.86 154.41 L416.78 152.48 L417.71 150.57 L418.63 148.70 L419.55 146.85 L420.47 145.02 L421.39 143.23 L422.32 141.45 L423.24 139.71 L424.16 137.99 L425.08 136.30 L426.00 134.63 L426.93 132.99 L427.85 131.37 L428.77 129.78 L429.69 128.21 L430.61 126.67 L431.54 125.16 L432.46 123.66 L433.38 122.20 L434.30 120.76 L435.22 119.34 L436.15 117.94 L437.07 116.57 L437.99 115.22 L438.91 113.90 L439.83 112.60 L440.76 111.32 L441.68 110.06 L442.60 108.83 L443.52 107.61 L444.44 106.42 L445.37 105.25 L446.29 104.10 L447.21 102.97 L448.13 101.86 L449.06 100.78 L449.98 99.71 L450.90 98.66 L451.82 97.61 L452.74 96.59 L453.67 95.57 L454.59 94.57 L455.51 93.58 L456.43 92.61 L457.35 91.65 L458.28 90.70 L459.20 89.78 L460.12 88.87 L461.04 87.97 L461.96 87.10 L462.89 86.24 L463.81 85.40 L464.73 84.58 L465.65 83.78 L466.57 83.00 L467.50 82.24 L468.42 81.50 L469.34 80.79 L470.26 80.10 L471.18 79.42 L472.11 78.76 L473.03 78.11 L473.95 77.47 L474.87 76.85 L475.79 76.24 L476.72 75.64 L477.64 75.06 L478.56 74.49 L479.48 73.93 L480.40 73.38 L481.33 72.84 L482.25 72.32 L483.17 71.80 L484.09 71.30 L485.01 70.81 L485.94 70.33 L486.86 69.86 L487.78 69.40 L488.70 68.95 L489.63 68.50 L490.55 68.07 L491.47 67.65 L492.39 67.24 L493.31 66.84 L494.24 66.44 L495.16 66.06 L496.08 65.68 L497.00 65.31 L497.92 64.95 L498.85 64.60 L499.77 64.26 L500.69 63.92 L501.61 63.60 L502.53 63.28 L503.46 62.98 L504.38 62.69 L505.30 62.40 L506.22 62.13 L507.14 61.86 L508.07 61.60 L508.99 61.35 L509.91 61.10 L510.83 60.86 L511.75 60.63 L512.68 60.40 L513.60 60.18 L514.52 59.96 L515.44 59.75 L516.36 59.54 L517.29 59.33 L518.21 59.13 L519.13 58.93 L520.05 58.73 L520.97 58.53 L521.90 58.34 L522.82 58.16 L523.74 57.97 L524.66 57.79 L525.58 57.62 L526.51 57.45 L527.43 57.28 L528.35 57.12 L529.27 56.96 L530.19 56.81 L531.12 56.65 L532.04 56.50 L532.96 56.36 L533.88 56.22 L534.81 56.08 L535.73 55.94 L536.65 55.81 L537.57 55.68 L538.49 55.56 L539.42 55.43 L540.34 55.31 L541.26 55.19 L542.18 55.08 L543.10 54.96 L544.03 54.85 L544.95 54.74 L545.87 54.64 L546.79 54.53 L547.71 54.43 L548.64 54.33 L549.56 54.23 L550.48 54.14 L551.40 54.04 L552.32 53.95 L553.25 53.86 L554.17 53.77 L555.09 53.68 L556.01 53.60 L556.93 53.51 L557.86 53.43 L558.78 53.35 L559.70 53.27 L560.62 53.19 L561.54 53.11 L562.47 53.04 L563.39 52.97 L564.31 52.90 L565.23 52.83 L566.15 52.76 L567.08 52.69 L568.00 52.63 L568.92 52.56 L569.84 52.50 L570.76 52.44 L571.69 52.38 L572.61 52.32 L573.53 52.26 L574.45 52.21 L575.38 52.15 L576.30 52.10 L577.22 52.05 L578.14 52.00 L579.06 51.95 L579.99 51.90 L580.91 51.85 L581.83 51.81 L582.75 51.76 L583.67 51.72 L584.60 51.67 L585.52 51.63 L586.44 51.59 L587.36 51.55 L588.28 51.51 L589.21 51.47 L590.13 51.43 L591.05 51.40 L591.97 51.36 L592.89 51.32 L593.82 51.29 L594.74 51.26 L595.66 51.22 L596.58 51.19 L597.50 51.16 L598.43 51.13 L599.35 51.10 L600.27 51.07 L601.19 51.04 L602.11 51.01 L603.04 50.99 L603.96 50.96 L604.88 50.93 L605.80 50.91 L606.72 50.88 L607.65 50.86 L608.57 50.83 L609.49 50.81 L610.41 50.79 L611.33 50.77 L612.26 50.75 L613.18 50.72 L614.10 50.71 L615.02 50.69 L615.95 50.67 L616.87 50.65 L617.79 50.63 L618.71 50.62 L619.63 50.60 L620.56 50.59 L621.48 50.57 L622.40 50.56 L623.32 50.55 L624.24 50.53 L625.17 50.52 L626.09 50.51 L627.01 50.50 L627.93 50.49 L628.85 50.48 L629.78 50.47 L630.70 50.46 L631.62 50.45 L632.54 50.45 L633.46 50.44 L634.39 50.43 L635.31 50.43 L636.23 50.42 L637.15 50.41 L638.07 50.41 L639.00 50.41 L639.92 50.40 L640.84 50.40 L641.76 50.39 L642.68 50.39 L643.61 50.39 L644.53 50.39 L645.45 50.39 L646.37 50.38 L647.29 50.38 L648.22 50.38 L649.14 50.38 L650.06 50.38 L650.98 50.38 L651.90 50.38 L652.83 50.38 L653.75 50.39 L654.67 50.39 L655.59 50.39 L656.52 50.39 L657.44 50.39 L658.36 50.40 L659.28 50.40 L660.20 50.40 L661.13 50.41 L662.05 50.41 L662.97 50.41 L663.89 50.42 L664.81 50.42 L665.74 50.43 L666.66 50.43 L667.58 50.44 L668.50 50.44 L669.42 50.45 L670.35 50.45 L671.27 50.46 L672.19 50.46 L673.11 50.47 L674.03 50.47 L674.96 50.48 L675.88 50.49 L676.80 50.49" stroke="#1a1a1a" stroke-width="1.15" fill="none" stroke-linejoin="round"/><path d="M300.00 363.20 L300.76 363.20 L301.51 363.20 L302.27 363.20 L303.02 363.20 L303.78 363.20 L304.53 363.20 L305.29 363.20 L306.04 363.20 L306.80 363.20 L307.55 363.20 L308.31 363.20 L309.06 363.20 L309.82 363.20 L310.57 363.20 L311.33 363.20 L312.08 363.20 L312.84 363.20 L313.59 363.20 L314.35 363.20 L315.10 363.20 L315.86 363.20 L316.61 363.20 L317.37 363.20 L318.12 363.20 L318.88 363.20 L319.63 363.20 L320.39 363.20 L321.14 363.20 L321.90 363.20 L322.65 363.20 L323.41 363.20 L324.16 363.20 L324.92 363.20 L325.67 363.20 L326.43 363.20 L327.18 363.20 L327.94 363.20 L328.69 363.20 L329.45 363.20 L330.20 363.20 L330.96 363.20 L331.71 363.20 L332.47 363.20 L333.22 363.20 L333.98 363.20 L334.74 363.20 L335.49 363.20 L336.25 363.20 L337.00 363.20 L337.76 363.20 L338.51 363.20 L339.27 363.20 L340.02 363.20 L340.78 363.20 L341.53 363.20 L342.29 363.20 L343.04 363.20 L343.80 363.20 L344.55 363.20 L345.31 363.20 L346.06 363.20 L346.82 363.20 L347.57 363.20 L348.33 363.20 L349.08 363.20 L349.84 363.20 L350.59 363.20 L351.35 363.20 L352.10 363.20 L352.86 363.20 L353.61 363.20 L354.37 363.20 L355.12 363.20 L355.88 363.20 L356.63 363.20 L357.39 363.20 L358.14 363.20 L358.90 363.20 L359.65 363.20 L360.41 363.20 L361.16 363.20 L361.92 363.20 L362.67 363.20 L363.43 363.20 L364.18 363.20 L364.94 363.20 L365.69 363.20 L366.45 363.20 L367.20 363.20 L367.96 363.20 L368.72 363.20 L369.47 363.20 L370.23 363.20 L370.98 363.20 L371.74 363.20 L372.49 363.20 L373.25 363.20 L374.00 363.20 L374.76 363.20 L375.51 363.20 L376.27 363.20 L377.02 363.20 L377.78 363.20 L378.53 363.20 L379.29 363.20 L380.04 363.20 L380.80 363.20 L381.55 363.20 L382.31 363.20 L383.06 363.20 L383.82 363.20 L384.57 363.20 L385.33 363.20 L386.08 363.20 L386.84 363.20 L387.59 363.20 L388.35 363.20 L389.10 363.20 L389.86 363.20 L390.61 363.20 L391.37 363.20 L392.12 363.20 L392.88 363.20 L393.63 363.20 L394.39 363.20 L395.14 363.20 L395.90 363.20 L396.65 363.20 L397.41 363.20 L398.16 363.20 L398.92 363.20 L399.67 363.20 L400.43 363.20 L401.18 363.20 L401.94 363.20 L402.69 363.20 L403.45 363.20 L404.21 363.20 L404.96 363.20 L405.72 363.20 L406.47 363.20 L407.23 363.20 L407.98 363.20 L408.74 363.20 L409.49 363.20 L410.25 363.20 L411.00 363.20 L411.76 363.20 L412.51 363.20 L413.27 363.20 L414.02 363.20 L414.78 363.20 L415.53 363.20 L416.29 363.20 L417.04 363.20 L417.80 363.20 L418.55 363.20 L419.31 363.20 L420.06 363.20 L420.82 363.20 L421.57 363.20 L422.33 362.48 L423.08 359.53 L423.84 355.37 L424.59 348.20 L425.35 338.98 L426.10 326.95 L426.86 310.79 L427.61 298.26 L428.37 286.29 L429.12 270.16 L429.88 248.58 L430.63 224.75 L431.39 202.15 L432.14 183.08 L432.90 165.49 L433.65 150.76 L434.41 139.89 L435.16 130.46 L435.92 120.07 L436.67 109.87 L437.43 101.82 L438.19 95.71 L438.94 90.65 L439.70 86.41 L440.45 82.72 L441.21 79.98 L441.96 78.11 L442.72 76.64 L443.47 75.54 L444.23 74.67 L444.98 73.96 L445.74 73.43 L446.49 73.09 L447.25 72.80 L448.00 72.63 L448.76 72.58 L449.51 72.54 L450.27 72.51 L451.02 72.49 L451.78 72.46 L452.53 72.44 L453.29 72.42 L454.04 72.41 L454.80 72.39 L455.55 72.38 L456.31 72.37 L457.06 72.36 L457.82 72.36 L458.57 72.35 L459.33 72.35 L460.08 72.35 L460.84 72.35 L461.59 72.35 L462.35 72.35 L463.10 72.35 L463.86 72.35 L464.61 72.35 L465.37 72.35 L466.12 72.35 L466.88 72.35 L467.63 72.35 L468.39 72.34 L469.14 72.34 L469.90 72.34 L470.65 72.34 L471.41 72.34 L472.17 72.34 L472.92 72.34 L473.68 72.34 L474.43 72.34 L475.19 72.34 L475.94 72.34 L476.70 72.34 L477.45 72.34 L478.21 72.34 L478.96 72.34 L479.72 72.34 L480.47 72.34 L481.23 72.34 L481.98 72.34 L482.74 72.34 L483.49 72.34 L484.25 72.34 L485.00 72.34 L485.76 72.34 L486.51 72.33 L487.27 72.33 L488.02 72.33 L488.78 72.33 L489.53 72.33 L490.29 72.33 L491.04 72.33 L491.80 72.33 L492.55 72.33 L493.31 72.33 L494.06 72.33 L494.82 72.33 L495.57 72.33 L496.33 72.33 L497.08 72.33 L497.84 72.33 L498.59 72.33 L499.35 72.33 L500.10 72.33 L500.86 72.33 L501.61 72.33 L502.37 72.33 L503.12 72.33 L503.88 72.33 L504.63 72.33 L505.39 72.33 L506.15 72.33 L506.90 72.33 L507.66 72.33 L508.41 72.32 L509.17 72.32 L509.92 72.32 L510.68 72.32 L511.43 72.32 L512.19 72.32 L512.94 72.32 L513.70 72.32 L514.45 72.32 L515.21 72.32 L515.96 72.32 L516.72 72.32 L517.47 72.32 L518.23 72.32 L518.98 72.32 L519.74 72.32 L520.49 72.32 L521.25 72.32 L522.00 72.32 L522.76 72.32 L523.51 72.32 L524.27 72.32 L525.02 72.32 L525.78 72.32 L526.53 72.32 L527.29 72.32 L528.04 72.32 L528.80 72.32 L529.55 72.32 L530.31 72.32 L531.06 72.32 L531.82 72.32 L532.57 72.32 L533.33 72.32 L534.08 72.32 L534.84 72.32 L535.59 72.32 L536.35 72.32 L537.10 72.31 L537.86 72.31 L538.61 72.31 L539.37 72.31 L540.13 72.31 L540.88 72.31 L541.64 72.31 L542.39 72.31 L543.15 72.31 L543.90 72.31 L544.66 72.31 L545.41 72.31 L546.17 72.31 L546.92 72.31 L547.68 72.31 L548.43 72.31 L549.19 72.31 L549.94 72.31 L550.70 72.31 L551.45 72.31 L552.21 72.31 L552.96 72.31 L553.72 72.31 L554.47 72.31 L555.23 72.31 L555.98 72.31 L556.74 72.31 L557.49 72.31 L558.25 72.31 L559.00 72.31 L559.76 72.31 L560.51 72.31 L561.27 72.31 L562.02 72.31 L562.78 72.31 L563.53 72.31 L564.29 72.31 L565.04 72.31 L565.80 72.31 L566.55 72.31 L567.31 72.31 L568.06 72.31 L568.82 72.31 L569.57 72.31 L570.33 72.31 L571.08 72.31 L571.84 72.31 L572.59 72.31 L573.35 72.31 L574.11 72.31 L574.86 72.31 L575.62 72.31 L576.37 72.31 L577.13 72.31 L577.88 72.31 L578.64 72.31 L579.39 72.31 L580.15 72.31 L580.90 72.31 L581.66 72.31 L582.41 72.31 L583.17 72.31 L583.92 72.31 L584.68 72.30 L585.43 72.30 L586.19 72.30 L586.94 72.30 L587.70 72.30 L588.45 72.30 L589.21 72.30 L589.96 72.30 L590.72 72.30 L591.47 72.30 L592.23 72.30 L592.98 72.30 L593.74 72.30 L594.49 72.30 L595.25 72.30 L596.00 72.30 L596.76 72.30 L597.51 72.30 L598.27 72.30 L599.02 72.30 L599.78 72.30 L600.53 72.30 L601.29 72.30 L602.04 72.30 L602.80 72.30 L603.55 72.30 L604.31 72.30 L605.06 72.30 L605.82 72.30 L606.57 72.30 L607.33 72.30 L608.08 72.30 L608.84 72.30 L609.60 72.30 L610.35 72.30 L611.11 72.30 L611.86 72.30 L612.62 72.30 L613.37 72.30 L614.13 72.30 L614.88 72.30 L615.64 72.30 L616.39 72.30 L617.15 72.30 L617.90 72.30 L618.66 72.30 L619.41 72.30 L620.17 72.30 L620.92 72.30 L621.68 72.30 L622.43 72.30 L623.19 72.30 L623.94 72.30 L624.70 72.30 L625.45 72.30 L626.21 72.30 L626.96 72.30 L627.72 72.30 L628.47 72.30 L629.23 72.30 L629.98 72.30 L630.74 72.30 L631.49 72.30 L632.25 72.30 L633.00 72.30 L633.76 72.30 L634.51 72.30 L635.27 72.30 L636.02 72.30 L636.78 72.30 L637.53 72.30 L638.29 72.30 L639.04 72.30 L639.80 72.30 L640.55 72.30 L641.31 72.30 L642.06 72.30 L642.82 72.30 L643.58 72.30 L644.33 72.30 L645.09 72.30 L645.84 72.30 L646.60 72.30 L647.35 72.30 L648.11 72.30 L648.86 72.30 L649.62 72.30 L650.37 72.30 L651.13 72.30 L651.88 72.30 L652.64 72.30 L653.39 72.30 L654.15 72.30 L654.90 72.30 L655.66 72.30 L656.41 72.30 L657.17 72.30 L657.92 72.30 L658.68 72.30 L659.43 72.30 L660.19 72.30 L660.94 72.30 L661.70 72.30 L662.45 72.30 L663.21 72.30 L663.96 72.30 L664.72 72.30 L665.47 72.30 L666.23 72.30 L666.98 72.30 L667.74 72.30 L668.49 72.30 L669.25 72.30 L670.00 72.30 L670.76 72.30 L671.51 72.30 L672.27 72.30 L673.02 72.30 L673.78 72.30 L674.53 72.30 L675.29 72.30 L676.04 72.30 L676.80 72.30" stroke="#ee1a1e" stroke-width="1.20" fill="none" stroke-linejoin="round"/></g><path d="M56.5 1.2H705.8V385.9" stroke="#777" stroke-width="1.6" fill="none"/><path d="M56.5 0.6V385.9H706.5999999999999" stroke="#505050" stroke-width="1.4" fill="none"/><path d="M51.7 363.20H56.5M51.7 331.20H56.5M51.7 299.20H56.5M51.7 267.20H56.5M51.7 235.20H56.5M51.7 203.20H56.5M51.7 171.20H56.5M51.7 139.20H56.5M51.7 107.20H56.5M51.7 75.20H56.5M51.7 43.20H56.5M277.40 385.9V389.5M676.90 385.9V389.5M58.29 385.9V381.3M68.51 385.9V381.3M77.65 385.9V374.2M137.78 385.9V381.3M172.95 385.9V381.3M197.91 385.9V381.3M217.27 385.9V377.9M233.09 385.9V381.3M246.46 385.9V381.3M258.04 385.9V381.3M268.26 385.9V381.3M277.40 385.9V374.2M337.53 385.9V381.3M372.70 385.9V381.3M397.66 385.9V381.3M417.02 385.9V377.9M432.84 385.9V381.3M446.21 385.9V381.3M457.79 385.9V381.3M468.01 385.9V381.3M477.15 385.9V374.2M537.28 385.9V381.3M572.45 385.9V381.3M597.41 385.9V381.3M616.77 385.9V377.9M632.59 385.9V381.3M645.96 385.9V381.3M657.54 385.9V381.3M667.76 385.9V381.3M676.90 385.9V374.2" stroke="#333" stroke-width="1.5" fill="none"/><text x="38.40" y="370.30" font-family="Liberation Sans, sans-serif" font-size="16" fill="#2b2b2b" stroke="#2b2b2b" stroke-width="0.3">0</text><path d="M35.47 338.30L34.06 338.30L34.06 329.34Q33.55 329.82 32.73 330.31Q31.91 330.79 31.26 331.03L31.26 329.68Q32.44 329.12 33.32 328.33Q34.20 327.54 34.57 326.80L35.47 326.80Z" fill="#2b2b2b" stroke="#2b2b2b" stroke-width="0.3"/><text x="38.40" y="338.30" font-family="Liberation Sans, sans-serif" font-size="16" fill="#2b2b2b" stroke="#2b2b2b" stroke-width="0.3">0</text><text x="29.51" y="306.30" font-family="Liberation Sans, sans-serif" font-size="16" fill="#2b2b2b" stroke="#2b2b2b" stroke-width="0.3">20</text><text x="29.51" y="274.30" font-family="Liberation Sans, sans-serif" font-size="16" fill="#2b2b2b" stroke="#2b2b2b" stroke-width="0.3">30</text><text x="29.51" y="242.30" font-family="Liberation Sans, sans-serif" font-size="16" fill="#2b2b2b" stroke="#2b2b2b" stroke-width="0.3">40</text><text x="29.51" y="210.30" font-family="Liberation Sans, sans-serif" font-size="16" fill="#2b2b2b" stroke="#2b2b2b" stroke-width="0.3">50</text><text x="29.51" y="178.30" font-family="Liberation Sans, sans-serif" font-size="16" fill="#2b2b2b" stroke="#2b2b2b" stroke-width="0.3">60</text><text x="29.51" y="146.30" font-family="Liberation Sans, sans-serif" font-size="16" fill="#2b2b2b" stroke="#2b2b2b" stroke-width="0.3">70</text><text x="29.51" y="114.30" font-family="Liberation Sans, sans-serif" font-size="16" fill="#2b2b2b" stroke="#2b2b2b" stroke-width="0.3">80</text><text x="29.51" y="82.30" font-family="Liberation Sans, sans-serif" font-size="16" fill="#2b2b2b" stroke="#2b2b2b" stroke-width="0.3">90</text><path d="M26.57 50.30L25.17 50.30L25.17 41.34Q24.66 41.82 23.84 42.31Q23.02 42.79 22.36 43.03L22.36 41.67Q23.54 41.12 24.42 40.33Q25.31 39.54 25.67 38.80L26.57 38.80Z" fill="#2b2b2b" stroke="#2b2b2b" stroke-width="0.3"/><text x="29.51" y="50.30" font-family="Liberation Sans, sans-serif" font-size="16" fill="#2b2b2b" stroke="#2b2b2b" stroke-width="0.3">00</text><path d="M278.91 407.80L277.51 407.80L277.51 398.84Q277.00 399.32 276.18 399.81Q275.36 400.29 274.70 400.53L274.70 399.18Q275.88 398.62 276.76 397.83Q277.65 397.04 278.01 396.30L278.91 396.30Z" fill="#2b2b2b" stroke="#2b2b2b" stroke-width="0.3"/><path d="M669.52 407.80L668.11 407.80L668.11 398.84Q667.60 399.32 666.78 399.81Q665.96 400.29 665.31 400.53L665.31 399.18Q666.49 398.62 667.37 397.83Q668.25 397.04 668.62 396.30L669.52 396.30Z" fill="#2b2b2b" stroke="#2b2b2b" stroke-width="0.3"/><text x="672.45" y="407.80" font-family="Liberation Sans, sans-serif" font-size="16" fill="#2b2b2b" stroke="#2b2b2b" stroke-width="0.3">00</text><text x="380.9" y="427.4" font-family="Liberation Sans, sans-serif" font-size="18.8" fill="#1e1e1e" stroke="#1e1e1e" stroke-width="0.3" text-anchor="middle">TPH (mg/L)</text><text transform="translate(15.2 191.4) rotate(-90)" x="0" y="0" font-family="Liberation Sans, sans-serif" font-size="18.9" fill="#1e1e1e" stroke="#1e1e1e" stroke-width="0.3" text-anchor="middle">Percent Immobilized</text><rect x="62.5" y="14.6" width="266" height="46" fill="#f0f0f0"/><path d="M164.6 14.6V60.6M241 14.6V60.6" stroke="#fff" stroke-width="1.2"/><path d="M62.5 13.9H328.6M62.5 61.2H328.6M62.5 133.9H328.6" stroke="#555" stroke-width="1.5"/><text x="113.5" y="42.2" font-family="Liberation Sans, sans-serif" font-size="11.5" font-weight="bold" fill="#000" text-anchor="middle">Measure</text><text x="202.3" y="35" font-family="Liberation Sans, sans-serif" font-size="11.5" font-weight="bold" fill="#000" text-anchor="middle">Estimate</text><text x="202.3" y="48.8" font-family="Liberation Sans, sans-serif" font-size="11.5" font-weight="bold" fill="#000" text-anchor="middle">(TPH mg/L)</text><text x="284.5" y="28.4" font-family="Liberation Sans, sans-serif" font-size="11.5" font-weight="bold" fill="#000" text-anchor="middle">95 %</text><text x="284.5" y="41.9" font-family="Liberation Sans, sans-serif" font-size="11.5" font-weight="bold" fill="#000" text-anchor="middle">Confidence</text><text x="284.5" y="55.4" font-family="Liberation Sans, sans-serif" font-size="11.5" font-weight="bold" fill="#000" text-anchor="middle">Interval</text><text x="113.5" y="77.8" font-family="Liberation Sans, sans-serif" font-size="11" font-weight="bold" fill="#22bfc4" text-anchor="middle">EC50 WAF</text><text x="113.5" y="101.9" font-family="Liberation Sans, sans-serif" font-size="11" font-weight="bold" fill="#f6716a" text-anchor="middle">EC50 CEWAF</text><text x="113.5" y="125.9" font-family="Liberation Sans, sans-serif" font-size="11.4" font-weight="bold" fill="#0a0a0a" text-anchor="middle">EC50 Combined</text><text x="202.3" y="77.8" font-family="Liberation Sans, sans-serif" font-size="11" font-weight="normal" fill="#111" text-anchor="middle">3.5</text><text x="284.5" y="77.8" font-family="Liberation Sans, sans-serif" font-size="11.2" font-weight="normal" fill="#111" text-anchor="middle">3.3 -.3.7</text><text x="202.3" y="101.9" font-family="Liberation Sans, sans-serif" font-size="11" font-weight="normal" fill="#111" text-anchor="middle">5.8</text><text x="284.5" y="101.9" font-family="Liberation Sans, sans-serif" font-size="11.2" font-weight="normal" fill="#111" text-anchor="middle">5.4 – 6.3</text><text x="202.3" y="125.9" font-family="Liberation Sans, sans-serif" font-size="11" font-weight="normal" fill="#111" text-anchor="middle">3.9</text><text x="284.5" y="125.9" font-family="Liberation Sans, sans-serif" font-size="11.2" font-weight="normal" fill="#111" text-anchor="middle">3.4 – 4.3</text></svg></body></html>
